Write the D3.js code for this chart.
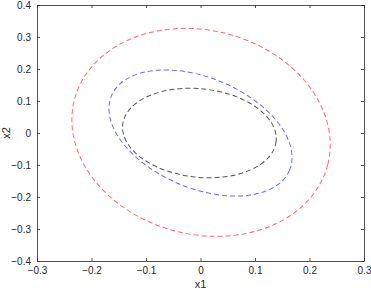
<!DOCTYPE html>
<html>
<head>
<meta charset="utf-8">
<script src="https://cdn.jsdelivr.net/npm/d3@7"></script>
<style>
  body { margin: 0; background: #fff; }
  text { font-family: "Liberation Sans", Arial, sans-serif; }
</style>
</head>
<body>
<div id="chart"></div>
<script>
// tick values for both axes
var xTicks = [-0.3, -0.2, -0.1, 0, 0.1, 0.2, 0.3];
var yTicks = [-0.4, -0.3, -0.2, -0.1, 0, 0.1, 0.2, 0.3, 0.4];

// contour ellipses (data units):
// centre, half width, half height, and x2 where the contour reaches its max x1
var names = ["red", "blue", "black"];
var colors = ["#ff6a6a", "#6a6aff", "#555555"];
var centerX1 = [0.001, 0.0, -0.002];
var centerX2 = [0.002, 0.0, 0.0];
var halfWidth = [0.237, 0.168, 0.141];
var halfHeight = [0.325, 0.197, 0.140];
var x2AtMaxX1 = [-0.039, -0.076, -0.0175];

function init() {
    var w = 371, h = 292;
    var margin = { left: 37, right: 7, top: 5, bottom: 31 };

    var x = d3.scaleLinear().domain([-0.3, 0.3]).range([margin.left, w - margin.right]);
    var y = d3.scaleLinear().domain([-0.4, 0.4]).range([h - margin.bottom, margin.top]);

    var svg = d3.select("#chart").append("svg")
        .attr("width", w)
        .attr("height", h);

    svg.append("rect").attr("width", w).attr("height", h).attr("fill", "#fff");

    // pixels per data unit
    var kx = x(1) - x(0);
    var ky = y(0) - y(1);

    // turn each contour into a pixel-space ellipse (centre, radii, angle)
    var ellipses = names.map(function(n, i) {
        var sxx = halfWidth[i] * halfWidth[i];
        var syy = halfHeight[i] * halfHeight[i];
        var sxy = halfWidth[i] * x2AtMaxX1[i];
        // pixel y runs downward, so the off-diagonal flips sign
        var p11 = kx * kx * sxx, p22 = ky * ky * syy, p12 = -kx * ky * sxy;
        var mid = (p11 + p22) / 2;
        var r = Math.sqrt(Math.pow((p11 - p22) / 2, 2) + p12 * p12);
        var theta = 0.5 * Math.atan2(2 * p12, p11 - p22);
        return {
            cx: x(centerX1[i]),
            cy: y(centerX2[i]),
            rx: Math.sqrt(mid + r),
            ry: Math.sqrt(mid - r),
            angle: theta * 180 / Math.PI,
            color: colors[i]
        };
    });

    svg.selectAll("ellipse.contour")
        .data(ellipses)
        .enter()
        .append("ellipse")
        .attr("class", "contour")
        .attr("cx", function(d) { return d.cx; })
        .attr("cy", function(d) { return d.cy; })
        .attr("rx", function(d) { return d.rx; })
        .attr("ry", function(d) { return d.ry; })
        .attr("transform", function(d) { return "rotate(" + d.angle + "," + d.cx + "," + d.cy + ")"; })
        .attr("fill", "none")
        .attr("stroke", function(d) { return d.color; })
        .attr("stroke-width", 1)
        .attr("stroke-dasharray", "5,3");

    var fmt = function(d) { return d === 0 ? "0" : d3.format(".1f")(d); };
    var axisColor = "#262626";

    // box with inward ticks on all four sides
    var xb = svg.append("g")
        .attr("transform", "translate(0," + (h - margin.bottom) + ")")
        .call(d3.axisBottom(x).tickValues(xTicks).tickFormat(fmt).tickSizeInner(-3).tickSizeOuter(0).tickPadding(6));
    var xt = svg.append("g")
        .attr("transform", "translate(0," + margin.top + ")")
        .call(d3.axisTop(x).tickValues(xTicks).tickFormat("").tickSizeInner(-3).tickSizeOuter(0));
    var yl = svg.append("g")
        .attr("transform", "translate(" + margin.left + ",0)")
        .call(d3.axisLeft(y).tickValues(yTicks).tickFormat(fmt).tickSizeInner(-3).tickSizeOuter(0).tickPadding(6));
    var yr = svg.append("g")
        .attr("transform", "translate(" + (w - margin.right) + ",0)")
        .call(d3.axisRight(y).tickValues(yTicks).tickFormat("").tickSizeInner(-3).tickSizeOuter(0));

    [xb, xt, yl, yr].forEach(function(g) {
        g.select(".domain").attr("stroke", axisColor).attr("stroke-width", 0.8);
        g.selectAll(".tick line").attr("stroke", axisColor).attr("stroke-width", 0.8);
        g.selectAll(".tick text").attr("fill", axisColor).attr("font-size", 10)
            .style("font-family", "'Liberation Sans', Arial, sans-serif");
    });

    // axis labels
    svg.append("text")
        .attr("x", x(0))
        .attr("y", h - 4)
        .attr("text-anchor", "middle")
        .attr("font-size", 11)
        .attr("fill", axisColor)
        .text("x1");
    svg.append("text")
        .attr("transform", "translate(10," + y(0) + ") rotate(-90)")
        .attr("text-anchor", "middle")
        .attr("font-size", 11)
        .attr("fill", axisColor)
        .text("x2");
}

window.onload = init;
</script>
</body>
</html>
